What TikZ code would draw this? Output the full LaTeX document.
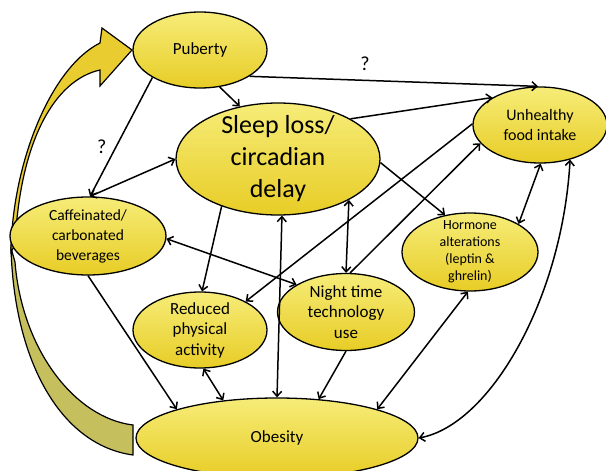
\documentclass[tikz,border=0pt]{standalone}
\usepackage{fontspec}
\setmainfont{Carlito}
\usetikzlibrary{shapes.geometric,arrows.meta}

\definecolor{blobtop}{RGB}{246,236,120}
\definecolor{blobbot}{RGB}{232,205,38}
\definecolor{arrowfront}{RGB}{233,205,48}
\definecolor{arrowback}{RGB}{198,191,94}

\tikzset{
  blob/.style={ellipse, draw, line width=1.3pt, top color=blobtop,
    bottom color=blobbot, inner sep=-10pt, align=center},
  oneway/.style={line width=1.5pt, -{Straight Barb[length=5pt,width=9pt]}},
  twoway/.style={line width=1.5pt,
    {Straight Barb[length=5pt,width=9pt]}-{Straight Barb[length=5pt,width=9pt]}},
  qmark/.style={font=\fontsize{20}{24}\selectfont, inner sep=0pt},
}

\begin{document}
\begin{tikzpicture}[x=1pt, y=-1pt]

  % -- page --
  \fill[white] (0,0) rectangle (606,471);
  \clip (0,0) rectangle (606,471);

  % -- big curved arrow, back fold --
  \draw[fill=arrowback, line width=1.2pt] (11,248) .. controls (14,360) and (60,445) .. (133,455)
    -- (133,425) .. controls (75,418) and (22,350) .. (15,262) -- cycle;

  % -- big curved arrow, front --
  \draw[fill=arrowfront, line width=1.2pt] (11,252) .. controls (12,165) and (50,68) .. (100,43)
    -- (102,28) -- (132,50) -- (100,86) -- (100,70)
    .. controls (55,80) and (20,140) .. (15,245) -- cycle;

  % -- factors --
  \node[blob, minimum width=134pt, minimum height=76pt, font=\fontsize{17}{20}\selectfont]
    (pub) at (200,50) {Puberty};
  \node[blob, minimum width=204pt, minimum height=112pt, font=\fontsize{26}{32}\selectfont]
    (sleep) at (278,159) {Sleep loss/\\circadian\\delay};
  \node[blob, minimum width=134pt, minimum height=76pt, font=\fontsize{16}{20}\selectfont]
    (food) at (540,125) {Unhealthy\\food intake};
  \node[blob, minimum width=156pt, minimum height=78pt, font=\fontsize{15.5}{20}\selectfont]
    (caff) at (88,236) {Caffeinated/\\carbonated\\beverages};
  \node[blob, minimum width=136pt, minimum height=78pt, font=\fontsize{14}{17}\selectfont]
    (horm) at (470,252) {Hormone\\alterations\\(leptin \&\\ghrelin)};
  \node[blob, minimum width=134pt, minimum height=76pt, font=\fontsize{17}{20.5}\selectfont]
    (phys) at (200,330) {Reduced\\physical\\activity};
  \node[blob, minimum width=137pt, minimum height=77pt, font=\fontsize{17}{20.5}\selectfont]
    (tech) at (346,312) {Night time\\technology\\use};
  \node[blob, minimum width=282pt, minimum height=80pt, font=\fontsize{17}{20}\selectfont]
    (obes) at (277,438) {Obesity};

  % -- links from puberty --
  \draw[oneway] (pub.-28) -- node[qmark, above=9pt, pos=0.4] {?} (food.93);
  \draw[oneway] (pub.-62) -- (sleep.126);
  \draw[oneway] (pub.-150) -- node[qmark, left=9pt, pos=0.58] {?} (caff.87);

  % -- links from sleep loss --
  \draw[twoway] (caff.87) -- (sleep.180);
  \draw[oneway] (sleep.29) -- (food.150);
  \draw[oneway] (sleep.-2) -- (horm.124);
  \draw[oneway] (sleep.220) -- (phys.87);
  \draw[twoway] (sleep.-86) -- (obes.90);
  \draw[twoway] (sleep.-30) -- (tech.90);

  % -- links from food intake --
  \draw[twoway] (food.-89) -- (horm.30);
  \draw[twoway] (food.-49) .. controls +(-8,140) and +(71,-13) .. (obes.0);
  \draw[oneway] (food.179) -- (phys.32);
  \draw[oneway] (tech.84) -- (food.197);

  % -- the rest --
  \draw[twoway] (caff.-2) -- (tech.151);
  \draw[oneway] (caff.-90) -- (obes.164);
  \draw[twoway] (phys.-85) -- (obes.145);
  \draw[oneway] (tech.-90) -- (obes.43);
  \draw[twoway] (horm.-93) -- (obes.16);

\end{tikzpicture}
\end{document}
